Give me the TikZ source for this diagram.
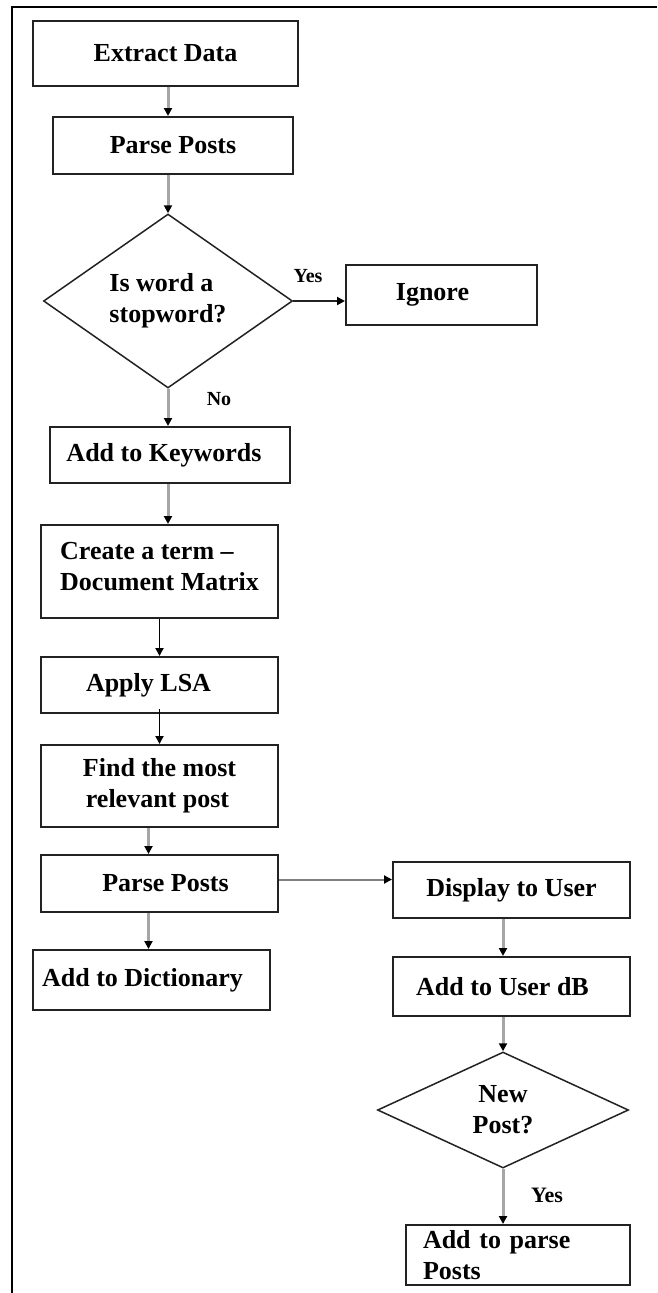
\documentclass[tikz,border=0pt]{standalone}
\usepackage{fontspec}
\setmainfont{Liberation Serif}
\usetikzlibrary{arrows.meta,shapes.geometric}
\definecolor{arrgray}{HTML}{A6A6A6}
\definecolor{edge}{HTML}{222222}
\tikzset{
  box/.style={draw=edge, line width=2pt, inner sep=0pt, font=\fontsize{26}{31}\selectfont\bfseries},
  dia/.style={diamond, draw=edge, line width=1.5pt, inner sep=2pt, font=\fontsize{26}{31}\selectfont\bfseries},
  lbl/.style={font=\fontsize{20}{24}\selectfont\bfseries, inner sep=0pt},
  tip/.style={-{Triangle[length=8pt,width=8pt,color=black]}},
  garrow/.style={tip, draw=arrgray, line width=3pt},
  tgarrow/.style={tip, draw=gray, line width=2pt},
  barrow/.style={tip, draw=black, line width=1.8pt},
}
\begin{document}
\begin{tikzpicture}[x=1pt,y=-1pt]
\useasboundingbox (0,0) rectangle (657,1293);
% frame
\draw[line width=2.2pt] (657,7) -- (12,7) -- (12,1293);

\node[box, minimum width=265pt, minimum height=65pt] (extract) at (165.5,53.5) {Extract Data};
\node[box, minimum width=240pt, minimum height=57pt] (parse1) at (173,145.5) {Parse Posts};
\node[dia, minimum width=249pt, minimum height=174pt, shape aspect=1.43, align=left] (stop) at (168,301) {Is word a\\stopword?};
\node[box, minimum width=191pt, minimum height=60pt] (ignore) at (441.5,295) {Ignore\hspace*{18pt}};
\node[box, minimum width=240pt, minimum height=56pt] (keywords) at (170,455) {Add to Keywords\hspace*{12pt}};
\node[box, minimum width=237pt, minimum height=93pt, align=left] (create) at (159.5,571.5) {Create a term --\\Document Matrix\rule[-10pt]{0pt}{0pt}};
\node[box, minimum width=237pt, minimum height=56pt] (lsa) at (159.5,685) {Apply LSA\hspace*{22pt}};
\node[box, minimum width=237pt, minimum height=82pt, align=center] (find) at (159.5,786) {Find the most\\relevant post\hspace*{4pt}};
\node[box, minimum width=237pt, minimum height=57pt] (parse2) at (159.5,883.5) {\hspace*{12pt}Parse Posts};
\node[box, minimum width=237pt, minimum height=60pt] (dict) at (151.5,980) {Add to Dictionary\hspace*{18pt}};
\node[box, minimum width=237pt, minimum height=56pt] (display) at (511.5,890) {Display to User};
\node[box, minimum width=237pt, minimum height=59pt] (userdb) at (511.5,986.5) {Add to User dB\hspace*{18pt}};
\node[dia, minimum width=251pt, minimum height=116pt, shape aspect=2.16, align=center] (newpost) at (503,1110) {New\\Post?};
\node[box, minimum width=224pt, minimum height=60pt, text width=190pt, align=left] (addparse) at (518,1255) {Add to parse\\Posts};

% labels
\node[lbl] (yes1) at (308,276) {Yes};
\node[lbl] (no1) at (219,399) {No};
\node[lbl, font=\fontsize{22}{26}\selectfont\bfseries] (yes2) at (547,1195) {Yes};

% connectors
\draw[garrow] ([xshift=2.5pt]extract.south) -- ([xshift=-5pt]parse1.north);
\draw[garrow] ([xshift=-5pt]parse1.south) -- (stop.north);
\draw[tgarrow, draw=edge] (stop.east) -- (stop.east -| ignore.west);
\draw[garrow] (stop.south) -- (stop.south |- keywords.north);
\draw[garrow] ([xshift=-2pt]keywords.south) -- ([xshift=-2pt]keywords.south |- create.north);
\draw[barrow] (create.south) -- (lsa.north);
\draw[barrow] ([yshift=5pt]lsa.south) -- (find.north);
\draw[garrow] ([xshift=-11pt]find.south) -- ([xshift=-11pt]find.south |- parse2.north);
\draw[garrow] ([xshift=-11pt]parse2.south) -- ([xshift=-11pt]parse2.south |- dict.north);
\draw[tgarrow] ([yshift=4pt]parse2.east) -- ([yshift=4pt]parse2.east -| display.west);
\draw[garrow] ([xshift=-8.5pt]display.south) -- ([xshift=-8.5pt]display.south |- userdb.north);
\draw[garrow] ([xshift=-8.5pt]userdb.south) -- (newpost.north);
\draw[garrow] (newpost.south) -- (newpost.south |- addparse.north);
\end{tikzpicture}
\end{document}
